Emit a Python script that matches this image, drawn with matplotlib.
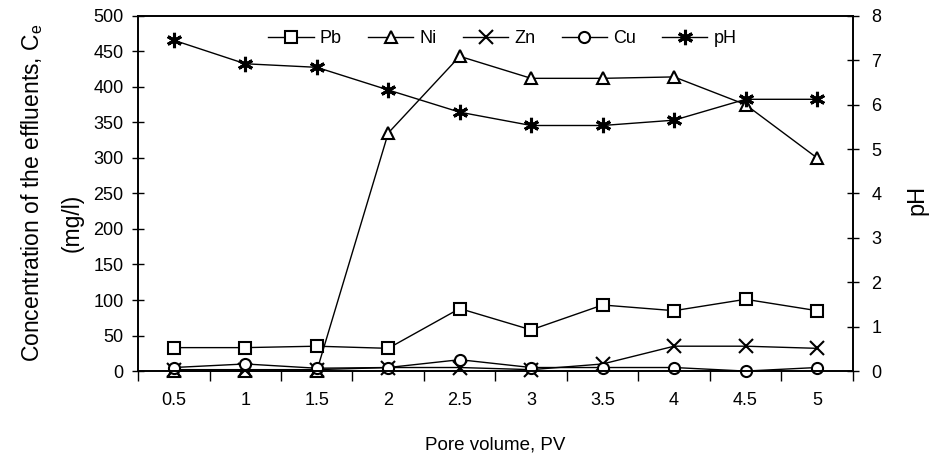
import matplotlib.pyplot as plt
import numpy as np

plt.rcParams['font.family'] = ['Liberation Sans', 'DejaVu Sans']

# Pore volume categories
pore_volume = ['0.5', '1', '1.5', '2', '2.5', '3', '3.5', '4', '4.5', '5']

# effluent concentrations (mg/l)
pb = [33, 33, 35, 32, 88, 58, 93, 85, 101, 85]
ni = [0, 0, 0, 335, 443, 412, 412, 414, 375, 300]
zn = [2, 2, 2, 5, 5, 2, 10, 35, 35, 32]
cu = [5, 10, 4, 5, 16, 5, 5, 5, 0, 5]
# pH on the right axis
ph = [7.45, 6.92, 6.84, 6.33, 5.83, 5.53, 5.53, 5.65, 6.12, 6.12]

x = np.arange(len(pore_volume))

fig, ax = plt.subplots(figsize=(9.33, 4.65), dpi=100)
fig.subplots_adjust(left=0.148, right=0.914, top=0.966, bottom=0.202)
ax2 = ax.twinx()

mk = dict(color='black', linewidth=1, markersize=9, markerfacecolor='white',
          markeredgecolor='black', markeredgewidth=1.5, clip_on=False)
l1, = ax.plot(x, pb, marker='s', label='Pb', **mk)
l2, = ax.plot(x, ni, marker='^', label='Ni', **mk)
l3, = ax.plot(x, zn, marker='x', label='Zn', **mk)
l4, = ax.plot(x, cu, marker='o', label='Cu', **mk)
l5, = ax2.plot(x, ph, marker=(6, 2, 0), label='pH', **mk)
l4.set_markersize(8)
l3.set_markersize(10)
l5.set_markersize(11)
l5.set_markeredgewidth(2.2)

ax.set_xlim(-0.5, len(x) - 0.5)
ax.set_ylim(0, 500)
ax2.set_ylim(0, 8)
ax.set_yticks(np.arange(0, 501, 50))
ax2.set_yticks(np.arange(0, 9, 1))

# category axis: labels at centres, tick marks between categories
ax.set_xticks(x)
ax.set_xticklabels(pore_volume)
ax.set_xticks(np.arange(-0.5, len(x), 1), minor=True)
ax.tick_params(axis='x', which='major', length=0, pad=15, labelsize=13)
ax.tick_params(axis='x', which='minor', length=7, direction='out', width=1)
ax.tick_params(axis='y', direction='inout', length=9, width=1, labelsize=13, pad=6)
ax2.tick_params(axis='y', direction='inout', length=9, width=1, labelsize=13, pad=9)

for a in (ax, ax2):
    for s in a.spines.values():
        s.set_linewidth(1.2)

ax.set_xlabel('Pore volume, PV', fontsize=13.5, labelpad=20)
# y label drawn as two lines, second line offset like the original
fig.text(0.034, 0.585, 'Concentration of the effluents, C$_\\mathregular{e}$',
         rotation=90, fontsize=16.5, ha='center', va='center')
fig.text(0.077, 0.52, '(mg/l)', rotation=90, fontsize=16.5, ha='center', va='center')
fig.text(0.983, 0.57, 'pH', rotation=90, fontsize=17, ha='center', va='center')

ax.legend(handles=[l1, l2, l3, l4, l5], loc='upper center', ncol=5, frameon=False,
          fontsize=13, bbox_to_anchor=(0.51, 1.005), handlelength=2.5,
          columnspacing=1.45, handletextpad=0.35)

plt.savefig('out.png', dpi=100)
